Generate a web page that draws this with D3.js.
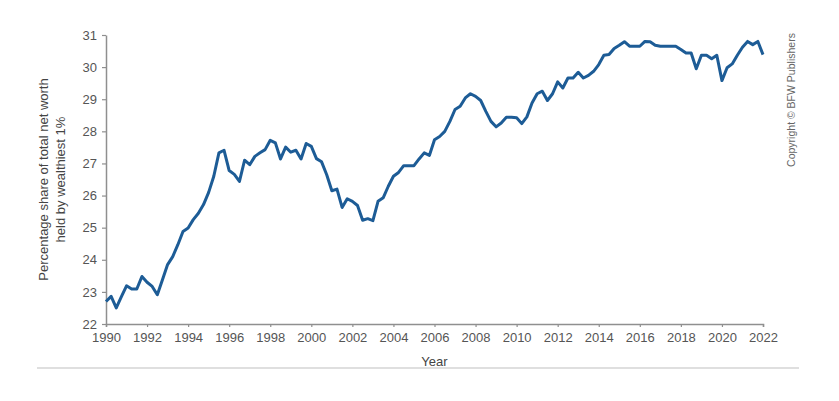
<!DOCTYPE html>
<html>
<head>
<meta charset="utf-8">
<script src="https://cdn.jsdelivr.net/npm/d3@7"></script>
<style>
  body { margin: 0; background: #fff; }
  text { font-family: "Liberation Sans", Arial, sans-serif; }
</style>
</head>
<body>
<div id="chart"></div>
<script>
// quarterly share of net worth, 1990 Q1 .. 2022 Q1
var startYear = 1990;
var share = [
  22.70, 22.86, 22.50, 22.85,   // 1990
  23.19, 23.09, 23.09, 23.48,   // 1991
  23.30, 23.17, 22.91, 23.38,   // 1992
  23.85, 24.10, 24.47, 24.88,   // 1993
  24.99, 25.25, 25.45, 25.72,   // 1994
  26.10, 26.60, 27.33, 27.41,   // 1995
  26.78, 26.66, 26.44, 27.10,   // 1996
  26.96, 27.22, 27.33, 27.43,   // 1997
  27.72, 27.64, 27.14, 27.51,   // 1998
  27.35, 27.41, 27.14, 27.62,   // 1999
  27.53, 27.15, 27.05, 26.65,   // 2000
  26.15, 26.20, 25.63, 25.90,   // 2001
  25.82, 25.69, 25.23, 25.28,   // 2002
  25.22, 25.82, 25.93, 26.29,   // 2003
  26.60, 26.72, 26.93, 26.93,   // 2004
  26.93, 27.14, 27.33, 27.25,   // 2005
  27.74, 27.84, 28.00, 28.31,   // 2006
  28.68, 28.78, 29.04, 29.17,   // 2007
  29.09, 28.96, 28.62, 28.31,   // 2008
  28.14, 28.26, 28.44, 28.44,   // 2009
  28.42, 28.24, 28.45, 28.88,   // 2010
  29.17, 29.25, 28.96, 29.17,   // 2011
  29.54, 29.35, 29.66, 29.66,   // 2012
  29.84, 29.66, 29.74, 29.87,   // 2013
  30.08, 30.37, 30.39, 30.58,   // 2014
  30.68, 30.79, 30.65, 30.65,   // 2015
  30.65, 30.80, 30.79, 30.68,   // 2016
  30.65, 30.65, 30.65, 30.65,   // 2017
  30.55, 30.44, 30.44, 29.95,   // 2018
  30.37, 30.37, 30.26, 30.37,   // 2019
  29.58, 29.98, 30.10, 30.37,   // 2020
  30.62, 30.80, 30.70, 30.80,   // 2021
  30.39                         // 2022
];
var xTicks = [1990, 1992, 1994, 1996, 1998, 2000, 2002, 2004, 2006, 2008,
              2010, 2012, 2014, 2016, 2018, 2020, 2022];
var yTicks = [22, 23, 24, 25, 26, 27, 28, 29, 30, 31];

var data = share.map(function(v, i) { return {t: startYear + i / 4, v: v}; });

var margin = {top: 35, right: 76, bottom: 77, left: 106},
    width = 839 - margin.left - margin.right,
    height = 401 - margin.top - margin.bottom;

var svg = d3.select("#chart")
  .append("svg")
    .attr("width", 839)
    .attr("height", 401);

var g = svg.append("g")
    .attr("transform", "translate(" + margin.left + "," + margin.top + ")");

var x = d3.scaleLinear().domain([1990, 2022]).range([0, width]);
var y = d3.scaleLinear().domain([22, 31]).range([height, 0]);

// axes
var xAxis = g.append("g")
    .attr("transform", "translate(0," + height + ")")
    .call(d3.axisBottom(x).tickValues(xTicks).tickFormat(d3.format("d"))
      .tickSizeInner(3).tickSizeOuter(3).tickPadding(6));
var yAxis = g.append("g")
    .call(d3.axisLeft(y).tickValues(yTicks).tickSizeInner(4).tickSizeOuter(0).tickPadding(5));

[xAxis, yAxis].forEach(function(a) {
  a.select(".domain").attr("stroke", "#8f8f8f").attr("stroke-width", 1.5);
  a.selectAll(".tick line").attr("stroke", "#8f8f8f").attr("stroke-width", 1.2);
  a.selectAll(".tick text")
    .attr("fill", "#555")
    .style("font-size", "13px")
    .style("font-family", "'Liberation Sans', Arial, sans-serif");
});

// line
g.append("path")
  .datum(data)
  .attr("fill", "none")
  .attr("stroke", "#1d5c96")
  .attr("stroke-width", 3)
  .attr("stroke-linejoin", "round")
  .attr("d", d3.line()
    .x(function(d) { return x(d.t); })
    .y(function(d) { return y(d.v); }));

// axis titles
g.append("text")
  .attr("x", width / 2)
  .attr("y", height + 42)
  .attr("text-anchor", "middle")
  .attr("fill", "#444")
  .style("font-size", "13px")
  .text("Year");

var yl = g.append("text")
  .attr("transform", "translate(-58," + (height / 2) + ") rotate(-90)")
  .attr("text-anchor", "middle")
  .attr("fill", "#444")
  .style("font-size", "13px");
yl.append("tspan").attr("x", 0).attr("y", 0).text("Percentage share of total net worth");
yl.append("tspan").attr("x", 0).attr("y", 16.5).text("held by wealthiest 1%");

// copyright note
svg.append("text")
  .attr("transform", "translate(795,100) rotate(-90)")
  .attr("text-anchor", "middle")
  .attr("fill", "#666")
  .style("font-size", "10.5px")
  .text("Copyright \u00a9 BFW Publishers");

// bottom rule
svg.append("line")
  .attr("x1", 37).attr("x2", 799)
  .attr("y1", 368).attr("y2", 368)
  .attr("stroke", "#d4d4d4")
  .attr("stroke-width", 1.5);
</script>
</body>
</html>
